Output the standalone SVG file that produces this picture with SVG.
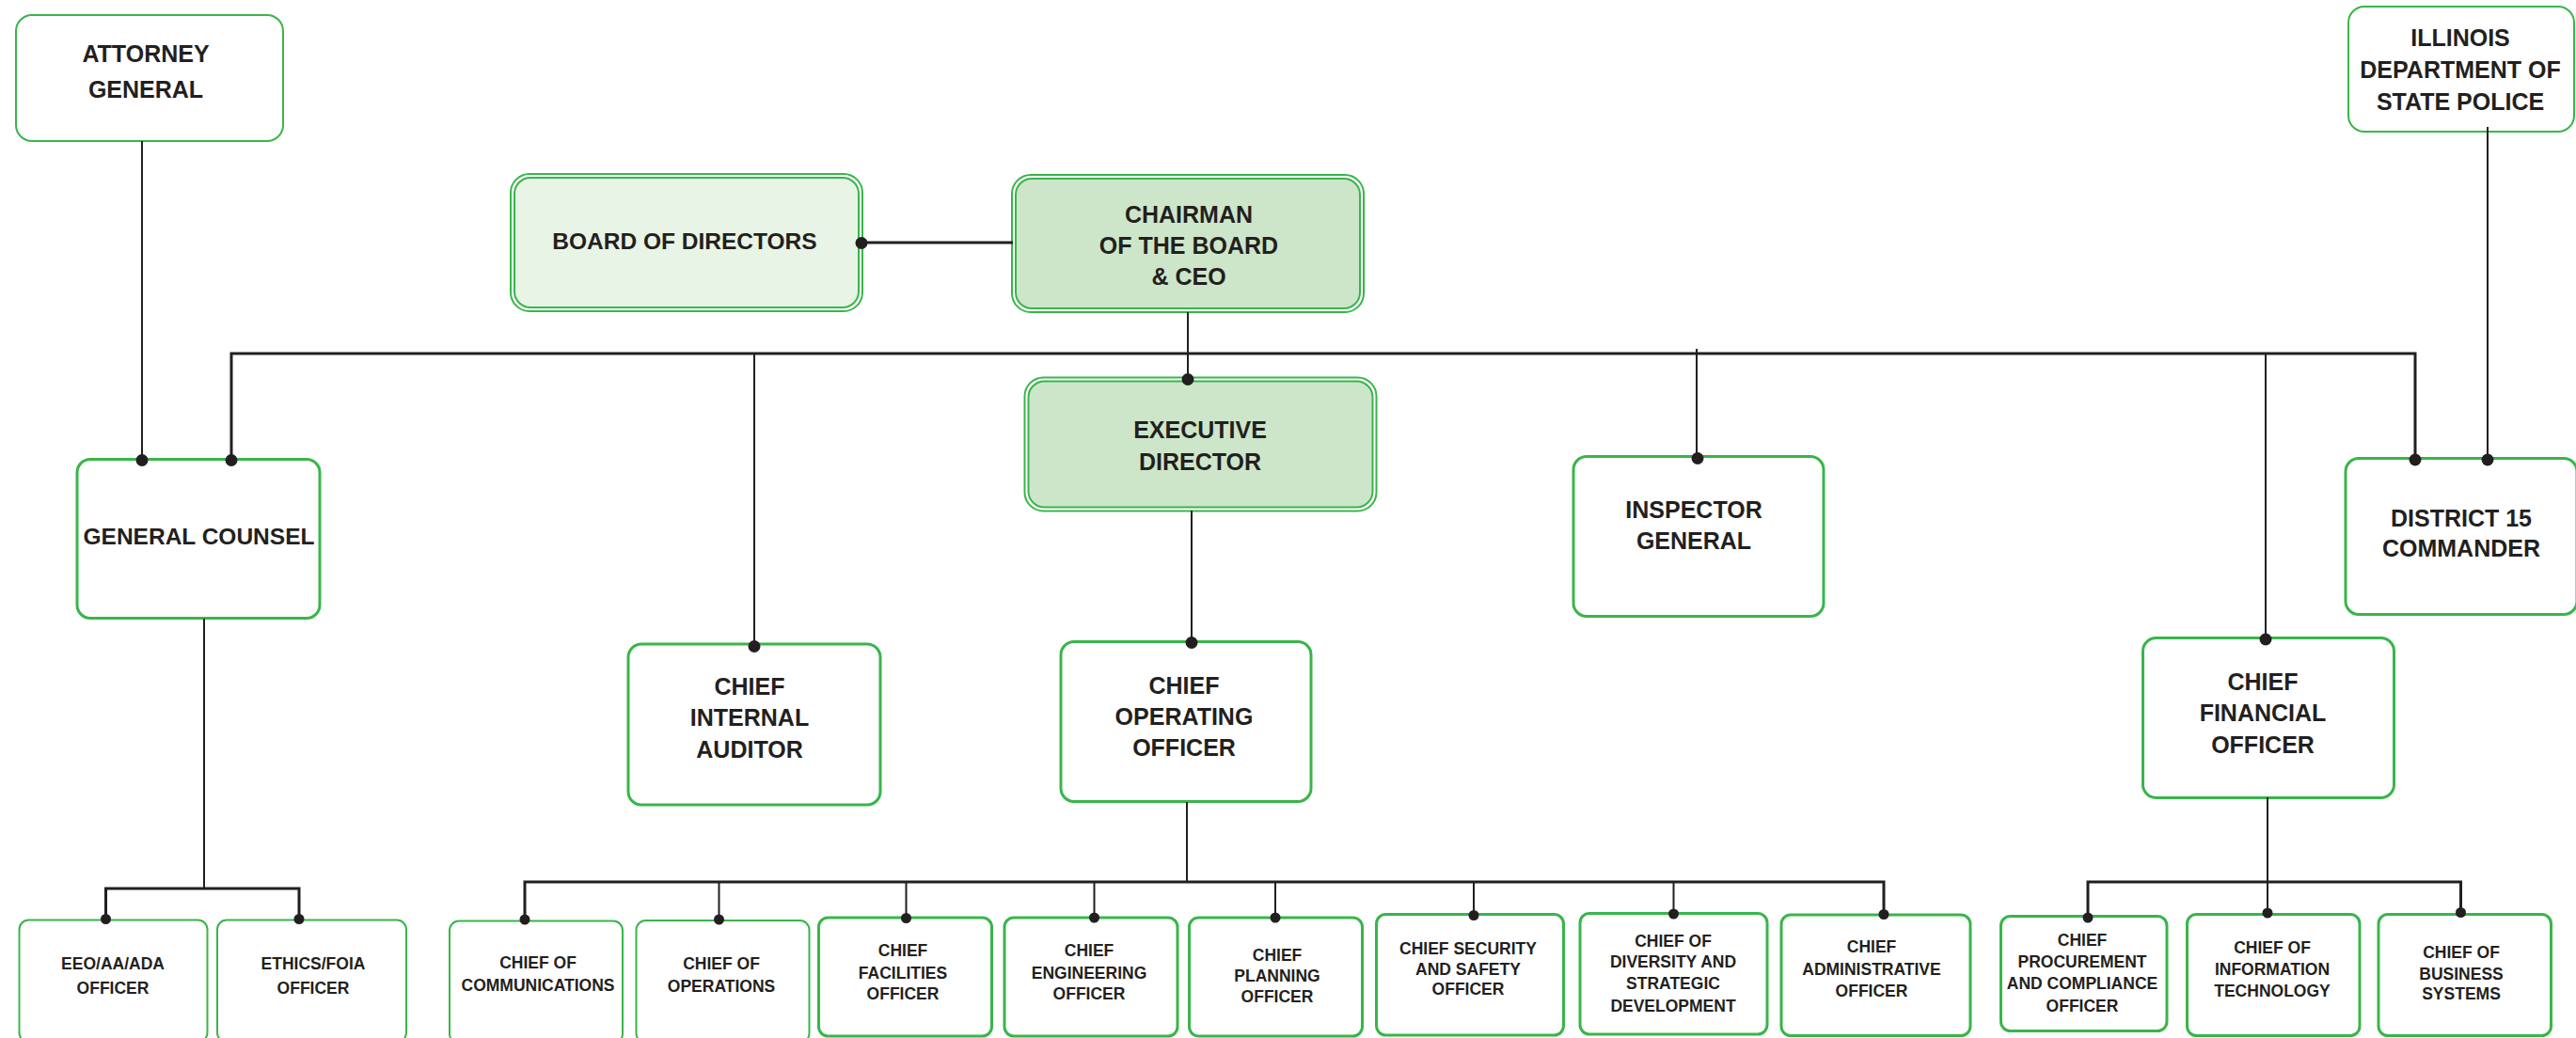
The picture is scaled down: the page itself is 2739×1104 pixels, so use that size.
<svg xmlns="http://www.w3.org/2000/svg" width="2739" height="1104" viewBox="0 0 2739 1104">
<style>
text{font-family:"Liberation Sans",Arial,sans-serif;font-weight:bold;fill:#231f20;text-anchor:middle}
.big{font-size:25px}
.med{font-size:24.5px}
.sm{font-size:17.5px}
.box{fill:#fff;stroke:#39b54a;stroke-width:3}
.thin{fill:#fff;stroke:#39b54a;stroke-width:2}
.outer{fill:#fff;stroke:#39b54a;stroke-width:2}
.inL{fill:#e8f4e5;stroke:#39b54a;stroke-width:2}
.inD{fill:#cde6c9;stroke:#39b54a;stroke-width:2}
.ln{fill:none;stroke:#231f20;stroke-width:2}
.bus{fill:none;stroke:#231f20;stroke-width:3}
.dot{fill:#231f20}
</style>
<rect width="2739" height="1104" fill="#fff"/>

<g id="attorney-general">
<rect class="thin" x="17" y="16" width="284" height="134" rx="17"/>
<text class="big" x="155" y="66">ATTORNEY</text>
<text class="big" x="155" y="104">GENERAL</text>
</g>

<g id="illinois-state-police">
<rect class="thin" x="2497" y="7" width="240" height="133" rx="17"/>
<text class="big" x="2616" y="49">ILLINOIS</text>
<text class="big" x="2616" y="83">DEPARTMENT OF</text>
<text class="big" x="2616" y="117">STATE POLICE</text>
</g>

<g id="board-of-directors">
<rect class="outer" x="543" y="185" width="374" height="146" rx="20"/>
<rect class="inL" x="547" y="189" width="366" height="138" rx="17"/>
<text class="med" x="728" y="265">BOARD OF DIRECTORS</text>
</g>

<g id="chairman-ceo">
<rect class="outer" x="1076" y="186" width="374" height="146" rx="20"/>
<rect class="inD" x="1080" y="190" width="366" height="138" rx="17"/>
<text class="big" x="1264" y="237">CHAIRMAN</text>
<text class="big" x="1264" y="270">OF THE BOARD</text>
<text class="big" x="1264" y="303">&amp; CEO</text>
</g>

<g id="executive-director">
<rect class="outer" x="1089.5" y="401.5" width="374" height="142" rx="20"/>
<rect class="inD" x="1093.5" y="405.5" width="366" height="134" rx="17"/>
<text class="big" x="1276" y="466">EXECUTIVE</text>
<text class="big" x="1276" y="500">DIRECTOR</text>
</g>

<g id="general-counsel">
<rect class="box" x="82" y="488.5" width="258" height="169" rx="14"/>
<text class="med" x="211.5" y="578.5">GENERAL COUNSEL</text>
</g>

<g id="chief-internal-auditor">
<rect class="box" x="668" y="685" width="268" height="171" rx="14"/>
<text class="big" x="797" y="739">CHIEF</text>
<text class="big" x="797" y="772">INTERNAL</text>
<text class="big" x="797" y="806">AUDITOR</text>
</g>

<g id="chief-operating-officer">
<rect class="box" x="1128" y="682.5" width="266" height="170" rx="14"/>
<text class="big" x="1259" y="738">CHIEF</text>
<text class="big" x="1259" y="771">OPERATING</text>
<text class="big" x="1259" y="804">OFFICER</text>
</g>

<g id="inspector-general">
<rect class="box" x="1673" y="485.5" width="266" height="170" rx="14"/>
<text class="big" x="1801" y="551">INSPECTOR</text>
<text class="big" x="1801" y="584">GENERAL</text>
</g>

<g id="district-15-commander">
<rect class="box" x="2494" y="487.5" width="246" height="166" rx="14"/>
<text class="big" x="2617" y="560">DISTRICT 15</text>
<text class="big" x="2617" y="592">COMMANDER</text>
</g>

<g id="chief-financial-officer">
<rect class="box" x="2278.5" y="678.5" width="267" height="170" rx="14"/>
<text class="big" x="2406" y="734">CHIEF</text>
<text class="big" x="2406" y="767">FINANCIAL</text>
<text class="big" x="2406" y="801">OFFICER</text>
</g>

<g id="eeo-officer">
<rect class="thin" x="20.5" y="978.5" width="200" height="130" rx="10"/>
<text class="sm" x="120" y="1031">EEO/AA/ADA</text>
<text class="sm" x="120" y="1057">OFFICER</text>
</g>

<g id="ethics-foia-officer">
<rect class="thin" x="231" y="978.5" width="201" height="130" rx="10"/>
<text class="sm" x="333" y="1031">ETHICS/FOIA</text>
<text class="sm" x="333" y="1057">OFFICER</text>
</g>

<g id="chief-of-communications">
<rect class="thin" x="478" y="979.5" width="184" height="130" rx="10"/>
<text class="sm" x="572" y="1030">CHIEF OF</text>
<text class="sm" x="572" y="1054">COMMUNICATIONS</text>
</g>

<g id="chief-of-operations">
<rect class="thin" x="676.5" y="979" width="184" height="130" rx="10"/>
<text class="sm" x="767" y="1031">CHIEF OF</text>
<text class="sm" x="767" y="1055">OPERATIONS</text>
</g>

<g id="chief-facilities-officer">
<rect class="box" x="870.5" y="976" width="184" height="126" rx="10"/>
<text class="sm" x="960" y="1017">CHIEF</text>
<text class="sm" x="960" y="1041">FACILITIES</text>
<text class="sm" x="960" y="1063">OFFICER</text>
</g>

<g id="chief-engineering-officer">
<rect class="box" x="1068" y="976" width="184" height="126" rx="10"/>
<text class="sm" x="1158" y="1017">CHIEF</text>
<text class="sm" x="1158" y="1041">ENGINEERING</text>
<text class="sm" x="1158" y="1063">OFFICER</text>
</g>

<g id="chief-planning-officer">
<rect class="box" x="1264.5" y="976" width="184" height="126" rx="10"/>
<text class="sm" x="1358" y="1022">CHIEF</text>
<text class="sm" x="1358" y="1044">PLANNING</text>
<text class="sm" x="1358" y="1066">OFFICER</text>
</g>

<g id="chief-security-safety-officer">
<rect class="box" x="1463.5" y="972.5" width="199" height="128.5" rx="10"/>
<text class="sm" x="1561" y="1015">CHIEF SECURITY</text>
<text class="sm" x="1561" y="1037">AND SAFETY</text>
<text class="sm" x="1561" y="1058">OFFICER</text>
</g>

<g id="chief-diversity-strategic-development">
<rect class="box" x="1680" y="971.5" width="199" height="128.5" rx="10"/>
<text class="sm" x="1779" y="1007">CHIEF OF</text>
<text class="sm" x="1779" y="1029">DIVERSITY AND</text>
<text class="sm" x="1779" y="1052">STRATEGIC</text>
<text class="sm" x="1779" y="1076">DEVELOPMENT</text>
</g>

<g id="chief-administrative-officer">
<rect class="box" x="1894" y="973" width="201" height="128.5" rx="10"/>
<text class="sm" x="1990" y="1013">CHIEF</text>
<text class="sm" x="1990" y="1037">ADMINISTRATIVE</text>
<text class="sm" x="1990" y="1060">OFFICER</text>
</g>

<g id="chief-procurement-compliance-officer">
<rect class="box" x="2127.5" y="974.5" width="176.5" height="122" rx="10"/>
<text class="sm" x="2214" y="1006">CHIEF</text>
<text class="sm" x="2214" y="1029">PROCUREMENT</text>
<text class="sm" x="2214" y="1052">AND COMPLIANCE</text>
<text class="sm" x="2214" y="1076">OFFICER</text>
</g>

<g id="chief-information-technology">
<rect class="box" x="2325.5" y="972.5" width="183.5" height="129" rx="10"/>
<text class="sm" x="2416" y="1014">CHIEF OF</text>
<text class="sm" x="2416" y="1037">INFORMATION</text>
<text class="sm" x="2416" y="1060">TECHNOLOGY</text>
</g>

<g id="chief-business-systems">
<rect class="box" x="2529" y="972.5" width="183.5" height="129" rx="10"/>
<text class="sm" x="2617" y="1019">CHIEF OF</text>
<text class="sm" x="2617" y="1042">BUSINESS</text>
<text class="sm" x="2617" y="1063">SYSTEMS</text>
</g>

<g id="connectors">
<path class="ln" d="M151 150V489"/>
<path class="bus" d="M917 258H1077"/>
<path class="ln" d="M1263 332V403"/>
<path class="bus" d="M246 489V376H2568V489"/>
<path class="ln" d="M802 376V687"/>
<path class="ln" d="M1804 371V487"/>
<path class="ln" d="M2409 376V680"/>
<path class="ln" d="M2645 135V489"/>
<path class="ln" d="M1267 543V683"/>
<path class="ln" d="M217 658V945"/>
<path class="bus" d="M112.5 977V945H318V977"/>
<path class="ln" d="M1262 853V938"/>
<path class="bus" d="M558 978V938H2003V972"/>
<path class="ln" d="M764.5 938V978M963.5 938V976M1163.5 938V976M1356 938V976M1567 938V973M1779.5 938V972"/>
<path class="ln" d="M2411 848V971"/>
<path class="bus" d="M2220 976V938H2616.5V970"/>
<g class="dot">
<circle cx="151" cy="489.5" r="6.5"/>
<circle cx="246" cy="489.5" r="6.5"/>
<circle cx="916" cy="258.5" r="6.5"/>
<circle cx="1263" cy="403.5" r="6.5"/>
<circle cx="802" cy="687.5" r="6.5"/>
<circle cx="1805" cy="487.5" r="6.5"/>
<circle cx="2568" cy="489" r="6.5"/>
<circle cx="2645" cy="489" r="6.5"/>
<circle cx="2409" cy="680" r="6.5"/>
<circle cx="1267" cy="683.5" r="6.5"/>
<circle cx="112.5" cy="977.5" r="5.5"/>
<circle cx="318" cy="977.5" r="5.5"/>
<circle cx="558" cy="978" r="5.5"/>
<circle cx="764.5" cy="978" r="5.5"/>
<circle cx="963.5" cy="976.5" r="5.5"/>
<circle cx="1163.5" cy="976" r="5.5"/>
<circle cx="1356" cy="976" r="5.5"/>
<circle cx="1567" cy="973.5" r="5.5"/>
<circle cx="1779.5" cy="972" r="5.5"/>
<circle cx="2003" cy="972.5" r="5.5"/>
<circle cx="2220" cy="976" r="5.5"/>
<circle cx="2411" cy="971" r="5.5"/>
<circle cx="2616.5" cy="970.5" r="5.5"/>
</g>
</g>
</svg>
